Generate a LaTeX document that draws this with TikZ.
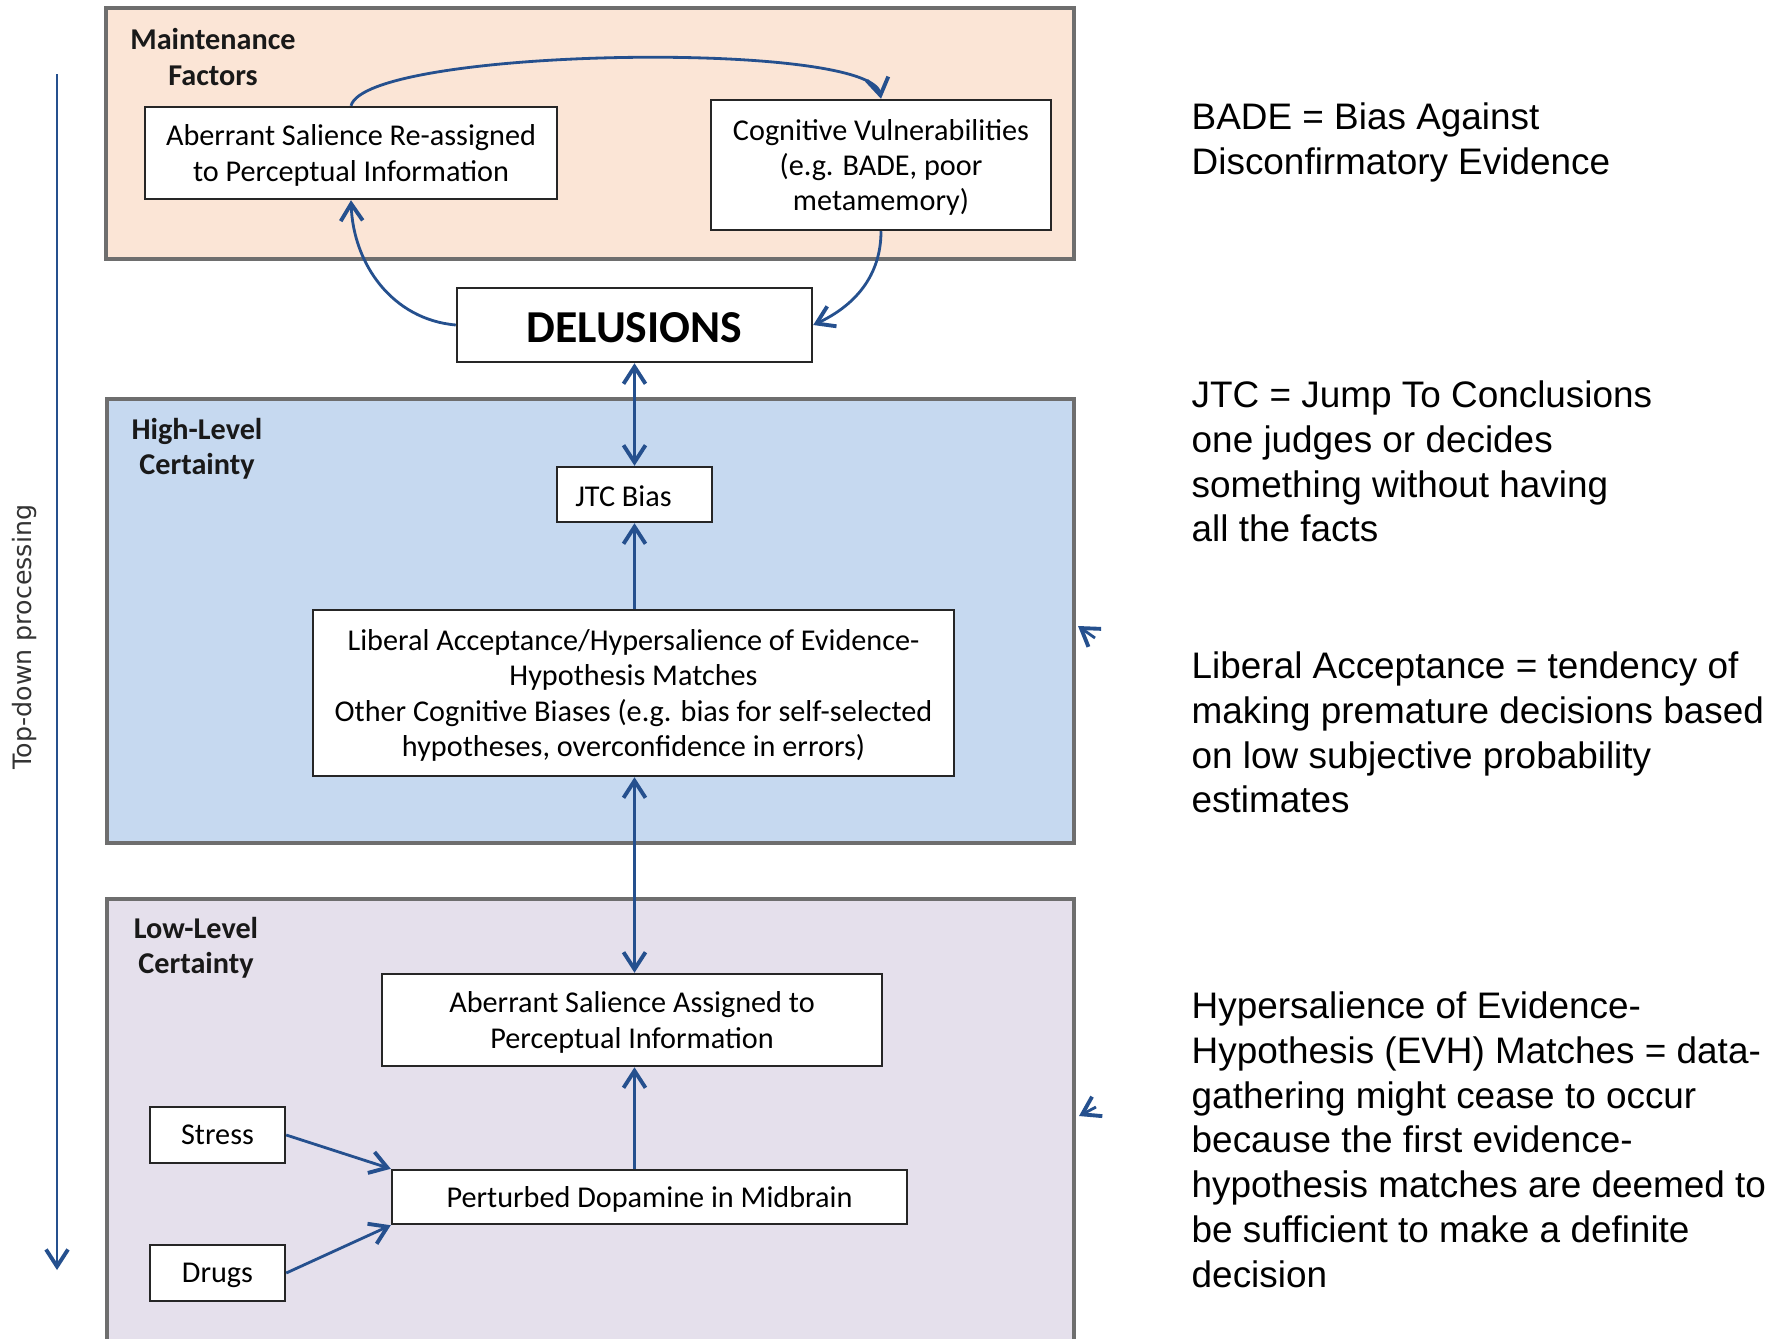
\documentclass[tikz,border=0pt]{standalone}
\usepackage{fontspec}
\setmainfont{Carlito}
\newfontfamily\notefont{Liberation Sans}
\newfontfamily\sidefont{DejaVu Sans}
\usetikzlibrary{arrows.meta}

\definecolor{arrowblue}{HTML}{25508E}
\definecolor{maintfill}{HTML}{FBE5D6}
\definecolor{highfill}{HTML}{C6D9F0}
\definecolor{lowfill}{HTML}{E5E0EC}
\definecolor{framegray}{HTML}{6E6E6E}

\tikzset{
  panel/.style={draw=framegray, line width=0.9pt},
  factor/.style={draw=black!85, fill=white, line width=0.7pt, inner sep=0pt,
    align=center, text depth=0pt, font=\fontsize{8.6}{10}\selectfont},
  panellabel/.style={align=center, text=black!90, font=\fontsize{8.6}{10}\selectfont\bfseries},
  link/.style={draw=arrowblue, line width=0.8pt},
  note/.style={anchor=north west, align=left, inner sep=0pt,
    font=\notefont\fontsize{10.5}{12.75}\selectfont}
}

\begin{document}
\begin{tikzpicture}[x=0.1mm, y=0.1mm,
    >={Straight Barb[length=1.7mm,width=2.2mm,line width=1.1pt]}]
    \clip (0,0) rectangle (1786,-1338);

    % Panels
    \draw[panel, fill=maintfill] (106,-8) rectangle (1074,-259);
    \draw[panel, fill=highfill] (107,-399) rectangle (1074,-843);
    \draw[panel, fill=lowfill] (107,-899) rectangle (1074,-1360);

    \node[panellabel] (mlabel) at (213,-57) {Maintenance\\Factors};
    \node[panellabel] (hlabel) at (197,-449) {High-Level\\Certainty};
    \node[panellabel] (llabel) at (196,-948) {Low-Level\\Certainty};

    % Boxes
    \node[factor, minimum width=41.2mm, minimum height=9.2mm] (reassign) at (351,-153)
        {Aberrant Salience Re-assigned\\to Perceptual Information};
    \node[factor, minimum width=34mm, minimum height=13mm] (cogvul) at (881,-165)
        {Cognitive Vulnerabilities\\(e.g. BADE, poor\\metamemory)};
    \node[factor, minimum width=35.5mm, minimum height=7.4mm, text height=10pt,
        font=\fontsize{13}{15}\selectfont\bfseries] (delusions) at (634.5,-325) {DELUSIONS};
    \node[factor, minimum width=15.5mm, minimum height=5.5mm, text height=6.8pt] (jtc) at (634.5,-494.5)
        {JTC Bias\hspace*{2.2mm}};
    \node[factor, minimum width=64.1mm, minimum height=16.6mm] (liberal) at (633.5,-693)
        {Liberal Acceptance/Hypersalience of Evidence-\\Hypothesis Matches\\Other Cognitive Biases (e.g. bias for self-selected\\hypotheses, overconfidence in errors)};
    \node[factor, minimum width=50mm, minimum height=9.2mm] (assigned) at (632,-1020)
        {Aberrant Salience Assigned to\\Perceptual Information};
    \node[factor, minimum width=13.5mm, minimum height=5.6mm] (stress) at (217.5,-1135) {Stress};
    \node[factor, minimum width=13.5mm, minimum height=5.6mm] (drugs) at (217.5,-1273) {Drugs};
    \node[factor, minimum width=51.5mm, minimum height=5.4mm] (dopamine) at (649.5,-1197)
        {Perturbed Dopamine in Midbrain};

    % Maintenance loop
    \draw[link, ->] (reassign.north) to[out=75, in=100, looseness=0.29] (cogvul.north);
    \draw[link, ->] (cogvul.south) to[out=-90, in=25] (delusions.east);
    \draw[link, ->] (delusions.west) to[out=175, in=-88] (reassign.south);

    % Vertical chain
    \draw[link, <->] (delusions.south) -- (jtc.north);
    \draw[link, ->] (jtc.south |- liberal.north) -- (jtc.south);
    \draw[link, <->] (jtc.south |- liberal.south) -- (jtc.south |- assigned.north);
    \draw[link, ->] (jtc.south |- dopamine.north) -- (jtc.south |- assigned.south);
    \draw[link, ->] (stress.east) -- (dopamine.north west);
    \draw[link, ->] (drugs.east) -- (dopamine.south west);

    % Stray heads at the right edge
    \coordinate (stubAfrom) at (1095,-638);
    \coordinate (stubAto) at (1078,-626);
    \draw[link, ->] (stubAfrom) -- (stubAto);
    \coordinate (stubBfrom) at (1096,-1107);
    \coordinate (stubBto) at (1079,-1116);
    \draw[link, ->] (stubBfrom) -- (stubBto);

    % Top-down processing
    \coordinate (tdtop) at (57,-74);
    \coordinate (tdbot) at (57,-1270);
    \draw[link, ->] (tdtop) -- (tdbot);
    \node[rotate=90, text=black!80, font=\sidefont\fontsize{7.2}{8}\selectfont] (tdlabel) at (25,-637)
        {Top-down processing};

    % Notes
    \node[note] (badenote) at (1191,-102) {BADE = Bias Against\\Disconfirmatory Evidence};
    \node[note] (jtcnote) at (1191,-380) {JTC = Jump To Conclusions\\one judges or decides\\something without having\\all the facts};
    \node[note] (libnote) at (1191,-651) {Liberal Acceptance = tendency of\\making premature decisions based\\on low subjective probability\\estimates};
    \node[note] (evhnote) at (1191,-991) {Hypersalience of Evidence-\\Hypothesis (EVH) Matches = data-\\gathering might cease to occur\\because the first evidence-\\hypothesis matches are deemed to\\be sufficient to make a definite\\decision};
\end{tikzpicture}
\end{document}
